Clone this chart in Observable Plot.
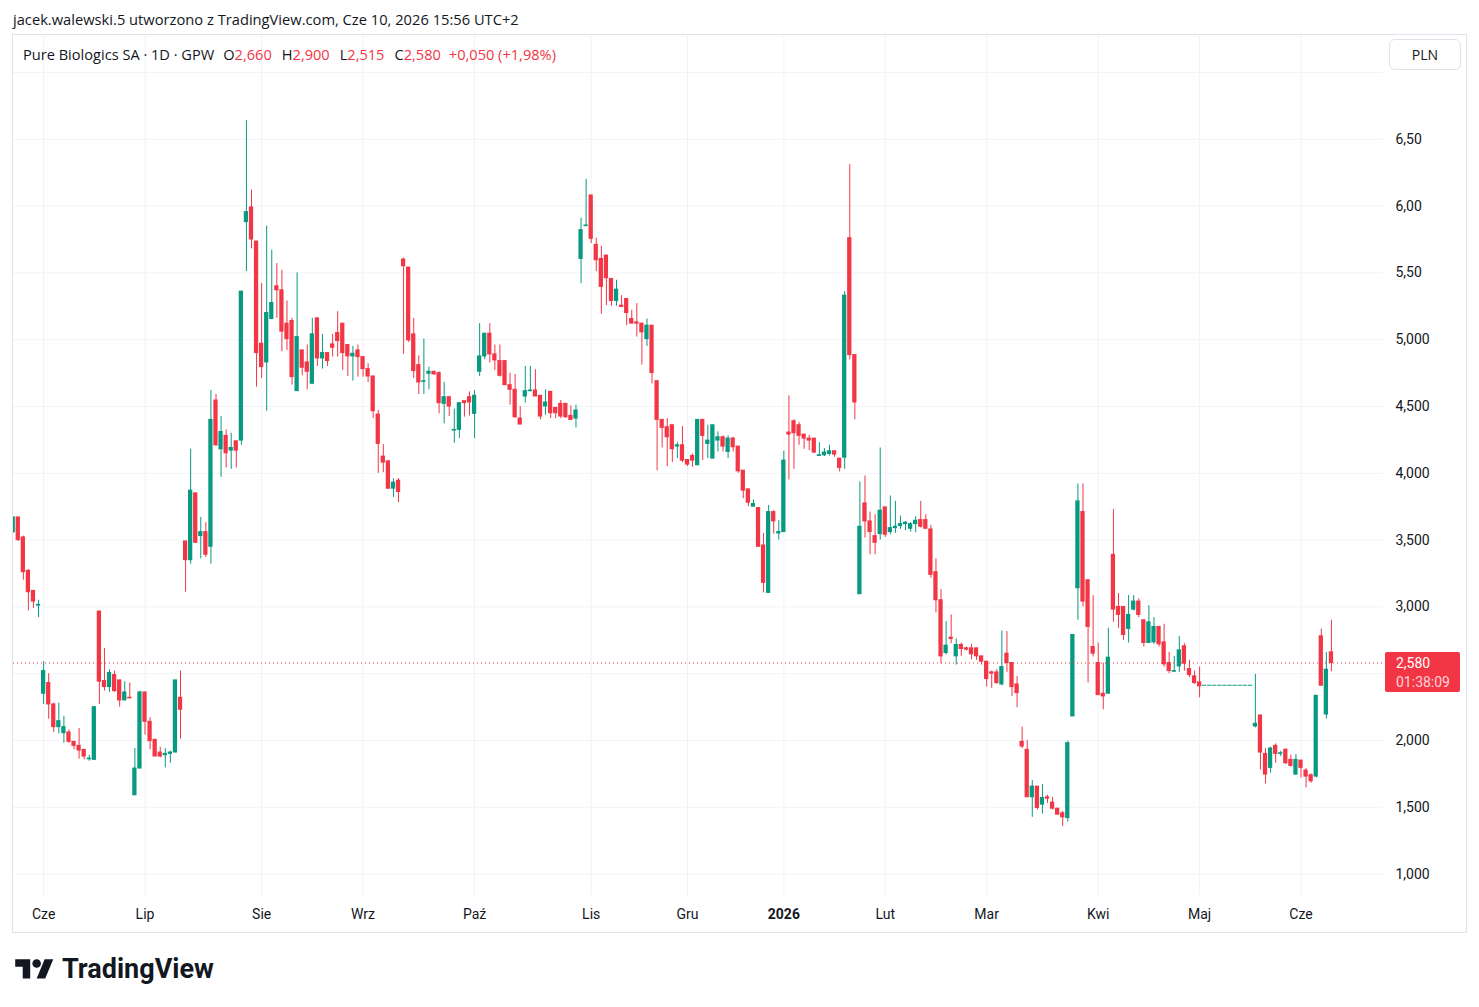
<!DOCTYPE html>
<html><head><meta charset="utf-8">
<script src="https://cdn.jsdelivr.net/npm/d3@7"></script>
<script src="https://cdn.jsdelivr.net/npm/@observablehq/plot@0.6"></script>
<style>
body{margin:0;background:#fff;font-family:"Open Sans",Roboto,sans-serif;color:#131722;}
#page{position:relative;width:1479px;height:1007px;overflow:hidden;background:#fff;}
.abs{position:absolute;white-space:nowrap;}
#legend span.k{margin-left:10px;}
</style></head><body><div id="page">
<div class="abs" style="left:13px;top:9px;font-size:14.7px;line-height:20px;">jacek.walewski.5 utworzono z TradingView.com, Cze 10, 2026 15:56 UTC+2</div>
<div class="abs" style="left:12px;top:34px;width:1455px;height:899px;box-sizing:border-box;border:1px solid #e0e3eb;"></div>
<div class="abs" id="chart" style="left:13px;top:35px;"></div>
<div class="abs" id="legend" style="left:23px;top:44px;font-size:14.6px;line-height:20px;"></div>
<div class="abs" style="left:1389px;top:39px;width:72px;height:31px;box-sizing:border-box;border:1px solid #e0e3eb;border-radius:6px;background:#fff;font-size:14px;line-height:29px;text-align:center;">PLN</div>
<div class="abs" id="tag" style="left:1385px;width:75px;height:40px;background:#f23645;border-radius:2px;font-family:Roboto,sans-serif;font-size:14px;line-height:19px;padding:2px 0 0 11px;box-sizing:border-box;color:#fff;"></div>
<svg class="abs" style="left:15px;top:955px;" width="39" height="30" viewBox="0 0 36 28"><path fill="#131722" d="M14 22H7V11H0V4h14v18zM28 22h-8l7.5-18h8L28 22z"/><circle fill="#131722" cx="20" cy="8" r="4"/></svg>
<div class="abs" style="left:62px;top:956px;font-family:Roboto,sans-serif;font-weight:700;font-size:27px;line-height:27px;color:#131722;">TradingView</div>
</div>
<script>
// ---- data (daily bars, Pure Biologics SA, GPW) ----
const opens = [
3.56,3.67,3.52,3.27,3.12,3.01,2.35,2.43,2.27,2.10,
2.055,2.06,1.99,1.96,1.93,1.86,1.855,2.965,2.445,2.40,
2.49,2.45,2.30,2.32,1.59,1.79,2.36,2.14,2.005,1.91,
1.89,1.90,1.91,2.32,3.49,3.35,3.85,3.53,3.56,3.45,
4.545,4.18,4.28,4.17,4.24,4.245,5.88,5.99,5.735,4.97,
4.83,5.155,5.40,5.37,5.12,5.14,4.615,4.92,4.83,4.67,
5.16,4.86,4.90,4.965,5.05,5.12,4.96,4.875,4.92,4.87,
4.78,4.725,4.44,4.125,4.09,3.885,3.945,5.60,5.54,5.04,
4.81,4.685,4.745,4.76,4.75,4.52,4.57,4.32,4.325,4.54,
4.57,4.445,4.76,4.875,5.045,4.89,4.84,4.84,4.66,4.625,
4.41,4.575,4.615,4.62,4.58,4.50,4.61,4.49,4.52,4.52,
4.43,4.41,5.605,5.85,6.08,5.71,5.605,5.63,5.455,5.29,
5.255,5.305,5.155,5.13,5.12,5.005,5.105,4.69,4.40,4.345,
4.36,4.20,4.21,4.10,4.13,4.06,4.40,4.22,4.11,4.245,
4.27,4.16,4.26,4.20,4.02,3.88,3.75,3.74,3.46,3.105,
3.71,3.55,3.56,4.305,4.39,4.36,4.29,4.26,4.26,4.13,
4.135,4.145,4.165,4.11,4.117,5.76,4.885,3.095,3.775,3.64,
3.53,3.545,3.745,3.56,3.59,3.605,3.62,3.585,3.62,3.65,
3.65,3.58,3.26,3.05,2.655,2.77,2.63,2.715,2.69,2.69,
2.69,2.63,2.59,2.51,2.51,2.42,2.65,2.58,2.42,1.99,
1.93,1.575,1.655,1.52,1.575,1.535,1.49,1.455,1.42,2.18,
3.14,3.71,3.20,2.70,2.58,2.35,2.35,3.39,3.00,3.00,
2.835,2.98,3.04,2.90,2.73,2.735,2.85,2.735,2.58,2.515,
2.555,2.705,2.535,2.48,2.435,2.41,2.41,2.41,2.41,2.41,
2.41,2.41,2.41,2.41,2.41,2.105,2.187,1.90,1.795,1.96,
1.90,1.93,1.855,1.745,1.85,1.775,1.74,1.73,2.78,2.195,
2.66];
const highs = [
3.67,3.67,3.53,3.28,3.12,3.05,2.59,2.50,2.28,2.28,
2.18,2.08,1.99,2.09,1.93,1.89,2.25,2.97,2.69,2.53,
2.52,2.45,2.44,2.43,1.94,2.37,2.36,2.17,2.01,1.95,
1.94,1.92,2.45,2.52,3.49,4.18,3.85,3.67,3.63,4.62,
4.59,4.425,4.325,4.30,4.24,5.36,6.64,6.12,5.735,5.42,
5.85,5.67,5.57,5.52,5.29,5.16,5.50,4.92,4.96,5.16,
5.16,5.04,4.90,5.04,5.21,5.12,4.96,4.95,4.96,4.87,
4.82,4.725,4.47,4.215,4.09,3.96,3.96,5.61,5.54,5.16,
4.88,5.005,4.795,4.765,4.76,4.68,4.57,4.48,4.53,4.54,
4.61,4.62,5.12,5.045,5.12,4.96,4.96,4.84,4.75,4.74,
4.50,4.80,4.80,4.775,4.58,4.625,4.61,4.49,4.545,4.52,
4.505,4.51,5.91,6.20,6.08,5.76,5.70,5.63,5.455,5.445,
5.33,5.305,5.22,5.27,5.125,5.155,5.105,4.69,4.40,4.41,
4.36,4.23,4.35,4.10,4.145,4.40,4.40,4.36,4.36,4.31,
4.28,4.28,4.27,4.20,4.02,3.88,3.80,3.74,3.55,3.76,
3.72,3.645,4.165,4.58,4.40,4.38,4.29,4.285,4.26,4.23,
4.185,4.21,4.165,4.11,5.36,6.31,4.885,3.935,3.98,3.71,
3.69,4.19,3.745,3.83,3.79,3.68,3.64,3.63,3.675,3.79,
3.69,3.61,3.36,3.13,2.89,2.94,2.76,2.73,2.70,2.72,
2.69,2.63,2.59,2.52,2.53,2.82,2.815,2.58,2.48,2.10,
2.00,1.70,1.655,1.67,1.59,1.575,1.49,1.47,1.995,2.79,
3.92,3.92,3.20,3.085,2.73,2.58,2.84,3.73,3.10,3.00,
3.085,3.085,3.06,2.90,3.01,2.92,2.85,2.87,2.66,2.63,
2.78,2.725,2.60,2.52,2.55,2.41,2.41,2.41,2.41,2.41,
2.41,2.41,2.41,2.41,2.41,2.495,2.19,1.94,1.95,1.975,
1.92,1.94,1.89,1.895,1.85,1.79,1.75,2.335,2.835,2.66,
2.90];
const lows = [
3.55,3.49,3.20,2.97,2.99,2.92,2.27,2.16,2.06,2.05,
1.98,1.98,1.93,1.86,1.855,1.845,1.85,2.27,2.37,2.36,
2.36,2.25,2.30,2.315,1.59,1.79,2.04,1.93,1.88,1.87,
1.795,1.83,1.91,2.01,3.11,3.32,3.48,3.36,3.37,3.32,
4.20,3.97,4.04,4.03,4.04,4.21,5.51,5.68,4.645,4.71,
4.465,5.15,5.16,4.91,4.92,4.66,4.615,4.73,4.625,4.67,
4.80,4.78,4.80,4.87,4.87,4.77,4.725,4.69,4.72,4.72,
4.68,4.41,4.00,4.005,3.88,3.82,3.78,4.89,4.98,4.71,
4.59,4.59,4.625,4.735,4.445,4.37,4.425,4.225,4.26,4.42,
4.43,4.26,4.725,4.85,4.825,4.77,4.72,4.655,4.51,4.41,
4.365,4.525,4.61,4.575,4.40,4.435,4.41,4.41,4.41,4.41,
4.395,4.34,5.42,5.85,5.72,5.51,5.19,5.255,5.25,5.25,
5.245,5.105,5.12,5.02,4.81,4.95,4.67,4.02,4.19,4.05,
4.08,4.11,4.08,4.05,4.045,4.06,4.095,4.11,4.11,4.16,
4.16,4.11,4.16,4.00,3.81,3.75,3.75,3.45,3.105,3.105,
3.545,3.50,3.56,3.95,4.03,4.21,4.18,4.17,4.15,4.125,
4.125,4.13,4.12,4.01,4.03,4.85,4.40,3.095,3.515,3.39,
3.39,3.50,3.52,3.54,3.55,3.58,3.57,3.56,3.555,3.59,
3.58,3.215,2.955,2.575,2.64,2.725,2.565,2.63,2.67,2.605,
2.60,2.565,2.40,2.39,2.42,2.41,2.51,2.33,2.245,1.94,
1.575,1.425,1.48,1.45,1.53,1.48,1.44,1.355,1.39,2.18,
2.90,3.00,2.43,2.625,2.34,2.23,2.35,2.885,2.84,2.75,
2.73,2.97,2.92,2.70,2.73,2.72,2.70,2.55,2.50,2.51,
2.51,2.52,2.47,2.42,2.32,2.41,2.41,2.41,2.41,2.41,
2.41,2.41,2.41,2.41,2.41,2.095,1.78,1.675,1.755,1.83,
1.88,1.82,1.80,1.74,1.72,1.645,1.68,1.72,2.41,2.16,
2.515];
const closes = [
3.67,3.50,3.26,3.11,3.04,3.015,2.52,2.27,2.10,2.145,
2.10,1.99,1.96,1.925,1.88,1.865,2.25,2.44,2.40,2.505,
2.37,2.30,2.36,2.315,1.79,2.36,2.14,1.995,1.88,1.88,
1.90,1.91,2.45,2.23,3.35,3.87,3.48,3.56,3.39,4.40,
4.21,4.31,4.15,4.19,4.17,5.36,5.955,5.75,4.90,4.795,
5.20,5.275,5.37,5.06,5.005,4.72,5.02,4.79,4.76,5.04,
4.86,4.90,4.84,4.94,4.99,4.90,4.875,4.895,4.87,4.78,
4.725,4.465,4.22,4.08,3.885,3.93,3.86,5.55,4.995,4.765,
4.68,4.69,4.76,4.74,4.525,4.57,4.50,4.325,4.525,4.525,
4.53,4.58,4.875,5.045,4.89,4.845,4.73,4.66,4.625,4.42,
4.365,4.615,4.62,4.575,4.425,4.53,4.45,4.45,4.425,4.42,
4.40,4.47,5.82,5.855,5.755,5.595,5.395,5.46,5.29,5.375,
5.245,5.20,5.12,5.12,5.055,5.105,4.75,4.40,4.34,4.27,
4.18,4.21,4.095,4.065,4.095,4.40,4.28,4.245,4.36,4.27,
4.20,4.26,4.195,4.015,3.87,3.78,3.77,3.45,3.18,3.71,
3.64,3.56,4.095,4.29,4.30,4.28,4.26,4.245,4.155,4.135,
4.155,4.165,4.14,4.04,5.33,4.885,4.53,3.60,3.64,3.56,
3.48,3.72,3.54,3.59,3.60,3.62,3.63,3.62,3.645,3.60,
3.585,3.24,3.05,2.63,2.71,2.76,2.715,2.685,2.68,2.645,
2.63,2.59,2.46,2.50,2.43,2.55,2.58,2.40,2.355,1.955,
1.575,1.655,1.495,1.57,1.565,1.49,1.445,1.425,1.98,2.79,
3.79,3.04,2.85,2.65,2.34,2.33,2.62,2.98,2.94,2.79,
2.94,3.04,2.94,2.73,2.885,2.85,2.72,2.57,2.52,2.52,
2.675,2.575,2.49,2.43,2.405,2.41,2.41,2.41,2.41,2.41,
2.41,2.41,2.41,2.41,2.41,2.125,1.91,1.745,1.94,1.90,
1.905,1.83,1.81,1.855,1.795,1.73,1.695,2.335,2.41,2.53,
2.58];

const firstSession = "2025-05-23";
const exchangeHolidays = ["2025-06-19","2025-08-15","2025-11-11","2025-12-24","2025-12-25","2025-12-26","2025-12-31","2026-01-01","2026-01-06","2026-04-03","2026-04-06","2026-05-01","2026-06-04"];
const monthNames = ["2026","Lut","Mar","Kwi","Maj","Cze","Lip","Sie","Wrz","Paź","Lis","Gru"];
// the 2,500 label sits under the last-price tag on the reference, so it is not drawn
const yTicks = [1,1.5,2,3,3.5,4,4.5,5,5.5,6,6.5];
const yTickLabels = ["1,000","1,500","2,000","3,000","3,500","4,000","4,500","5,000","5,50","6,00","6,50"];
const yGrid = [1,1.5,2,2.5,3,3.5,4,4.5,5,5.5,6,6.5,7];
const symbol = "Pure Biologics SA · 1D · GPW";
const countdown = "01:38:09";

// ---- trading calendar ----
const dates = [];
{
  const hol = new Set(exchangeHolidays);
  let d = new Date(firstSession + "T00:00:00Z");
  while (dates.length < opens.length) {
    const wd = d.getUTCDay();
    const s = d.toISOString().slice(0,10);
    if (wd !== 0 && wd !== 6 && !hol.has(s)) dates.push(new Date(d));
    d = new Date(d.getTime() + 86400000);
  }
}
const bars = opens.map((o, i) => ({i, date: dates[i], open: o, high: highs[i], low: lows[i], close: closes[i]}));
const monthTicks = [];
for (let i = 1; i < dates.length; i++) if (dates[i].getUTCMonth() !== dates[i-1].getUTCMonth()) monthTicks.push(i);
const monthLabel = i => monthNames[dates[i].getUTCMonth()];

const UP = "#089981", DOWN = "#f23645";
const col = d => d.close >= d.open ? UP : DOWN;
const last = bars[bars.length - 1], prev = bars[bars.length - 2];

const chart = Plot.plot({
  width: 1453, height: 897,
  marginLeft: 0, marginRight: 83, marginTop: 0, marginBottom: 37,
  style: {fontFamily: "Roboto, 'Noto Sans', sans-serif", fontSize: "14px", color: "#131722", background: "transparent", overflow: "visible"},
  x: {type: "linear", domain: [0.06, 270.27], label: null},
  y: {type: "linear", domain: [0.84, 7.277], label: null},
  marks: [
    Plot.ruleY(yGrid, {stroke: "#f0f3fa", strokeWidth: 1}),
    Plot.ruleX(monthTicks, {stroke: "#f0f3fa", strokeWidth: 1}),
    Plot.ruleX(bars, {x: "i", y1: "low", y2: "high", stroke: col, strokeWidth: 1, clip: true}),
    Plot.rect(bars, {x1: d => d.i - 0.42, x2: d => d.i + 0.42, y1: "open", y2: "close", fill: col, insetTop: -0.5, insetBottom: -0.5, clip: true}),
    Plot.ruleY([last.close], {stroke: DOWN, strokeWidth: 1, strokeDasharray: "1,3"}),
    Plot.axisY(yTicks, {anchor: "right", label: null, tickSize: 0, tickPadding: 12, tickFormat: d => yTickLabels[yTicks.indexOf(d)], fill: "#131722"}),
    Plot.axisX(monthTicks, {anchor: "bottom", label: null, tickSize: 0, tickPadding: 14, tickFormat: monthLabel, fill: "#131722"})
  ]
});
document.getElementById("chart").appendChild(chart);
d3.select(chart).selectAll("text").filter(function(){ return this.textContent === "2026"; }).attr("font-weight", "bold");

// legend from the last bar
const f3 = v => v.toFixed(3).replace(".", ",");
const chg = last.close - prev.close;
const pct = chg / prev.close * 100;
const sign = v => (v >= 0 ? "+" : "−");
const lcol = last.close >= last.open ? "color:" + UP : "color:" + DOWN;
document.getElementById("legend").innerHTML =
  `<span>${symbol}</span>` +
  `<span class="k" style="margin-left:9px">O</span><span style="${lcol}">${f3(last.open)}</span>` +
  `<span class="k">H</span><span style="${lcol}">${f3(last.high)}</span>` +
  `<span class="k">L</span><span style="${lcol}">${f3(last.low)}</span>` +
  `<span class="k">C</span><span style="${lcol}">${f3(last.close)}</span>` +
  `<span class="k" style="${lcol};margin-left:8px">${sign(chg)}${f3(Math.abs(chg))} (${sign(pct)}${Math.abs(pct).toFixed(2).replace(".", ",")}%)</span>`;

// last price tag on the price scale
const yPix = 35 + chart.scale("y").apply(last.close);
const tag = document.getElementById("tag");
tag.style.top = (yPix - 11) + "px";
tag.innerHTML = `<div>${f3(last.close)}</div><div style="color:#ffd5d9">${countdown}</div>`;
</script>
</body></html>
